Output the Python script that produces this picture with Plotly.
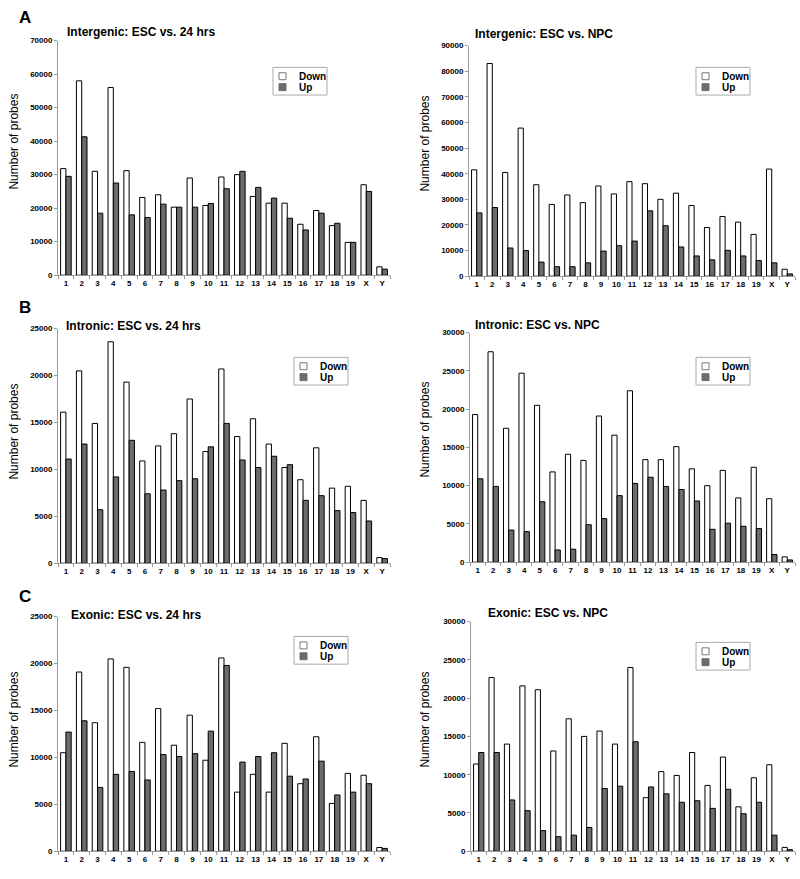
import plotly.graph_objects as go

chroms = ["1", "2", "3", "4", "5", "6", "7", "8", "9", "10", "11", "12", "13",
          "14", "15", "16", "17", "18", "19", "X", "Y"]

# A: Intergenic
ig24_down = [31800, 58000, 31000, 56000, 31200, 23200, 24000, 20300, 29000, 20800, 29300,
             30000, 23500, 21500, 21500, 15200, 19300, 14800, 9800, 27000, 2500]
ig24_up = [29500, 41300, 18500, 27500, 18000, 17200, 21200, 20300, 20300, 21400, 25800,
           31000, 26200, 23000, 17000, 13500, 18500, 15500, 9800, 25000, 1800]
ignpc_down = [41500, 83000, 40500, 57800, 35700, 28000, 31700, 28700, 35200, 32100, 36900,
              36100, 30000, 32400, 27600, 19000, 23300, 21100, 16300, 41800, 2700]
ignpc_up = [24700, 26800, 11000, 10000, 5500, 3700, 3700, 5200, 9800, 11900, 13700,
            25500, 19700, 11400, 7900, 6400, 10100, 7900, 6100, 5200, 900]

# B: Intronic
in24_down = [16100, 20500, 14900, 23600, 19300, 10900, 12500, 13800, 17500, 11900, 20700,
             13500, 15400, 12700, 10200, 8900, 12300, 8000, 8200, 6700, 600]
in24_up = [11100, 12700, 5700, 9200, 13100, 7400, 7800, 8800, 9000, 12400, 14900,
           11000, 10200, 11400, 10500, 6700, 7200, 5600, 5400, 4500, 500]
innpc_down = [19300, 27500, 17500, 24700, 20500, 11800, 14100, 13300, 19100, 16600, 22400,
              13400, 13400, 15100, 12200, 10000, 12000, 8400, 12400, 8300, 700]
innpc_up = [10900, 9900, 4200, 4000, 7900, 1600, 1700, 4900, 5700, 8700, 10300,
            11100, 9900, 9500, 8000, 4300, 5100, 4700, 4400, 1000, 300]

# C: Exonic
ex24_down = [10500, 19100, 13700, 20500, 19600, 11600, 15200, 11300, 14500, 9700, 20600,
             6300, 8200, 6300, 11500, 7200, 12200, 5100, 8300, 8100, 400]
ex24_up = [12700, 13900, 6800, 8200, 8500, 7600, 10300, 10100, 10400, 12800, 19800,
           9500, 10100, 10500, 8000, 7700, 9600, 6000, 6300, 7200, 300]
exnpc_down = [11400, 22700, 14000, 21600, 21100, 13100, 17300, 15000, 15700, 14000, 24000,
              7000, 10400, 9900, 12900, 8600, 12300, 5800, 9600, 11300, 500]
exnpc_up = [12900, 12900, 6700, 5300, 2700, 1900, 2100, 3100, 8200, 8500, 14300,
            8400, 7500, 6400, 6600, 5600, 8100, 4900, 6400, 2100, 200]

titles = ["Intergenic: ESC vs. 24 hrs", "Intergenic: ESC vs. NPC",
          "Intronic: ESC vs. 24 hrs", "Intronic: ESC vs. NPC",
          "Exonic: ESC vs. 24 hrs", "Exonic: ESC vs. NPC"]
y_max = [70000, 90000, 25000, 30000, 25000, 30000]
y_dtick = [10000, 10000, 5000, 5000, 5000, 5000]
panels = [(ig24_down, ig24_up), (ignpc_down, ignpc_up),
          (in24_down, in24_up), (innpc_down, innpc_up),
          (ex24_down, ex24_up), (exnpc_down, exnpc_up)]
series_names = ["Down", "Up"]

W, H = 800, 879
# plot boxes in pixels: (left, right, top, bottom)
boxes = [(58, 390, 37, 274), (469, 795, 42, 275),
         (58, 390, 328, 565), (470, 795, 332, 564),
         (58, 390, 619, 856), (471, 795, 624, 856)]
title_pos = [(65, 28), (473, 30), (64, 325), (473, 324), (69, 617), (486, 615)]
ytitle_pos = [(14, 139), (425, 141), (14, 432), (425, 430), (14, 723), (425, 723)]
legend_pos = [(273, 64), (696, 64), (294, 357), (696, 357), (294, 639), (696, 645)]

UP_COLOR = "#6c6c6c"
AXIS_COLOR = "#9a9a9a"
FONT = "Liberation Sans, Arial, sans-serif"


def px_x(v):
    return v / W


def px_y(v):
    return 1 - v / H


fig = go.Figure()
layout = dict(width=W, height=H, margin=dict(l=0, r=0, t=0, b=0),
              plot_bgcolor="white", paper_bgcolor="white",
              barmode="group", bargap=0.33, bargroupgap=0.0, showlegend=False,
              font=dict(family=FONT, color="black"))
annotations = []
shapes = []

for i, ((down, up), box) in enumerate(zip(panels, boxes)):
    n = "" if i == 0 else str(i + 1)
    xa, ya = "x" + n, "y" + n
    fig.add_trace(go.Bar(x=chroms, y=down, name=series_names[0], xaxis=xa, yaxis=ya,
                         marker=dict(color="white", line=dict(color="black", width=1))))
    fig.add_trace(go.Bar(x=chroms, y=up, name=series_names[1], xaxis=xa, yaxis=ya,
                         marker=dict(color=UP_COLOR, line=dict(color="black", width=1))))
    l, r, t, b = box
    layout["xaxis" + n] = dict(domain=[l / W, r / W], anchor=ya, type="category",
                               showline=True, linecolor=AXIS_COLOR, linewidth=1,
                               ticks="outside", tickson="boundaries", ticklen=3,
                               tickcolor=AXIS_COLOR, showgrid=False, tickangle=0,
                               tickfont=dict(size=8, weight="bold", family=FONT))
    layout["yaxis" + n] = dict(domain=[1 - b / H, 1 - t / H], anchor=xa,
                               range=[0, y_max[i]], dtick=y_dtick[i], tickformat="d",
                               showline=True, linecolor=AXIS_COLOR, linewidth=1,
                               ticks="outside", ticklen=3, tickcolor=AXIS_COLOR,
                               showgrid=False, zeroline=False,
                               tickfont=dict(size=8, weight="bold", family=FONT))
    # legend box drawn manually to match the compact original
    lx, ly = legend_pos[i]
    shapes.append(dict(type="rect", xref="paper", yref="paper",
                       x0=px_x(lx), x1=px_x(lx + 54), y0=px_y(ly), y1=px_y(ly + 28),
                       line=dict(color="#aaaaaa", width=1), fillcolor="white"))
    for k, (nm, col) in enumerate(zip(series_names, ["white", UP_COLOR])):
        cy = ly + 9 + k * 11
        shapes.append(dict(type="rect", xref="paper", yref="paper",
                           x0=px_x(lx + 6), x1=px_x(lx + 13), y0=px_y(cy - 3.5), y1=px_y(cy + 3.5),
                           line=dict(color="#777777" if k == 0 else UP_COLOR, width=1),
                           fillcolor=col))
        annotations.append(dict(text=nm, x=px_x(lx + 24), y=px_y(cy), xref="paper", yref="paper",
                                xanchor="left", yanchor="middle", showarrow=False,
                                font=dict(size=10, weight="bold", family=FONT)))
    tx, ty = title_pos[i]
    annotations.append(dict(text=titles[i], x=px_x(tx), y=px_y(ty), xref="paper", yref="paper",
                            xanchor="left", yanchor="middle", showarrow=False,
                            font=dict(size=12, weight="bold", family=FONT)))
    yx, yy = ytitle_pos[i]
    annotations.append(dict(text="Number of probes", x=px_x(yx), y=px_y(yy),
                            xref="paper", yref="paper",
                            xanchor="center", yanchor="middle", textangle=-90,
                            showarrow=False, font=dict(size=12, family=FONT)))

for letter, (px, py) in zip(["A", "B", "C"], [(25, 14), (25, 307), (25, 599)]):
    annotations.append(dict(text=letter, x=px_x(px), y=px_y(py), xref="paper", yref="paper",
                            xanchor="center", yanchor="middle", showarrow=False,
                            font=dict(size=17, weight="bold", family=FONT)))

layout["annotations"] = annotations
layout["shapes"] = shapes
fig.update_layout(**layout)
fig.write_html("out.html", config={"displayModeBar": False},
               post_script="document.body.style.margin='0';document.body.style.overflow='hidden';")
